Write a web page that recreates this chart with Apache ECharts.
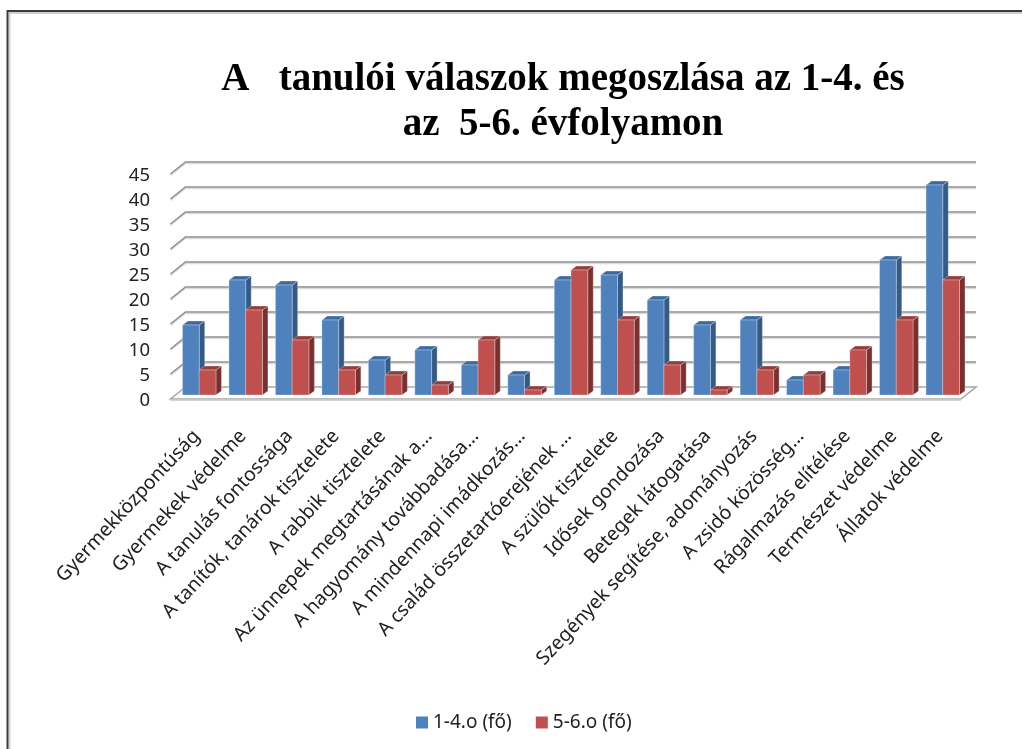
<!DOCTYPE html>
<html><head><meta charset="utf-8">
<style>html,body{margin:0;padding:0;background:#fff}#c{width:1022px;height:749px}</style>
<script src="https://cdn.jsdelivr.net/npm/echarts@6/dist/echarts.min.js"></script>
</head><body><div id="c"></div>
<script>
const categories = ["Gyermekközpontúság","Gyermekek védelme","A tanulás fontossága","A tanítók, tanárok tisztelete","A rabbik tisztelete","Az ünnepek megtartásának a…","A hagyomány továbbadása…","A mindennapi imádkozás…","A család összetartóerejének …","A szülők tisztelete","Idősek gondozása","Betegek látogatása","Szegények segítése, adományozás","A zsidó közösség…","Rágalmazás elítélése","Természet védelme","Állatok védelme"];
const grade14 = [14,23,22,15,7,9,6,4,23,24,19,14,15,3,5,27,42];
const grade56 = [5,17,11,5,4,2,11,1,25,15,6,1,5,4,9,15,23];
const ticks = [5,10,15,20,25,30,35,40,45];
const titleText = "A   tanulói válaszok megoszlása az 1-4. és\naz  5-6. évfolyamon";
const seriesNames = ["1-4.o (fő)","5-6.o (fő)"];

const DX = 5.5, DY = 4;
function barSeries(name, values, side, front, top, sideCol){
  return {
    type:'custom', name, z:5+side, clip:false,
    itemStyle:{color:front},
    encode:{x:0,y:1},
    data: values.map((v,i)=>[i,v]),
    renderItem(params, api){
      const p = api.coord([api.value(0), api.value(1)]);
      const b = api.coord([api.value(0), 0]);
      const w = api.size([1,0])[0]*0.36;
      const x0 = side===0 ? p[0]-w : p[0], x1 = x0+w, y=p[1], y0=b[1];
      const edge = {stroke:'rgba(235,240,250,0.55)', lineWidth:0.6};
      return {type:'group', children:[
        {type:'polygon', shape:{points:[[x1,y],[x1+DX,y-DY],[x1+DX,y0-DY],[x1,y0]]}, style:{fill:sideCol, ...edge}},
        {type:'polygon', shape:{points:[[x0,y],[x0+DX,y-DY],[x1+DX,y-DY],[x1,y]]}, style:{fill:top, ...edge}},
        {type:'rect', shape:{x:x0,y:y,width:w,height:y0-y}, style:{fill:front, ...edge}}
      ]};
    }
  };
}
const wallSeries = {
  type:'custom', name:'wall', z:1, silent:true, clip:false, encode:{y:0},
  data: ticks.map(t=>[t]),
  renderItem(params, api){
    const c = api.coord([0, api.value(0)]);
    const step = api.size([1,0])[0];
    const l = c[0]-step/2, r = l+step*categories.length, y=c[1];
    return {type:'group', children:[
      {type:'polyline', shape:{points:[[l-5.5,y+5.5],[l+9.5,y-6.5],[r+10,y-6.5]]}, style:{fill:'none',stroke:'#dcdcdc',lineWidth:1.5}},
      {type:'polyline', shape:{points:[[l-5.5,y+4],[l+9.5,y-8],[r+10,y-8]]}, style:{fill:'none',stroke:'#8f8f8f',lineWidth:1.6}}
    ]};
  }
};
const floorSeries = {
  type:'custom', name:'floor', z:2, silent:true, clip:false, encode:{y:0},
  data:[[0]],
  renderItem(params, api){
    const c = api.coord([0, api.value(0)]);
    const step = api.size([1,0])[0];
    const l = c[0]-step/2, r = l+step*categories.length, y=c[1];
    return {type:'group', children:[
      {type:'polygon', shape:{points:[[l-5.5,y+4],[l+9.5,y-8],[r+10,y-8],[r-5,y+4]]}, style:{fill:'#fff',stroke:'#a6a6a6',lineWidth:1.6}},
      {type:'line', shape:{x1:l-5.5,y1:y+5.2,x2:r-5,y2:y+5.2}, style:{stroke:'#d4d4d4',lineWidth:1.5}}
    ]};
  }
};
const chart = echarts.init(document.getElementById('c'), null, {renderer:'canvas'});
chart.setOption({
  animation:false,
  backgroundColor:'#fff',
  title:{text:titleText,left:558,top:52,textAlign:'center',
    textStyle:{fontFamily:'Liberation Serif',fontWeight:'bold',fontSize:39,lineHeight:45,color:'#000'}},
  legend:{data:seriesNames,left:416,top:713,padding:0,icon:'rect',itemWidth:12,itemHeight:12,itemGap:24,
    textStyle:{fontFamily:'Noto Sans',fontSize:19,color:'#222'}},
  grid:{left:176,width:790,top:170,height:225},
  xAxis:{type:'category',data:categories,
    axisLine:{show:false},axisTick:{show:false},splitLine:{show:false},
    axisLabel:{interval:0,rotate:47,margin:35,fontFamily:'Noto Sans',fontSize:19.4,color:'#222',hideOverlap:false,padding:[0,4,0,0]}},
  yAxis:{type:'value',min:0,max:45,interval:5,
    axisLine:{show:false},axisTick:{show:false},splitLine:{show:false},
    axisLabel:{margin:26,fontFamily:'Noto Sans',fontSize:18.5,color:'#222',verticalAlign:'top',lineHeight:12}},
  graphic:[
    {type:'polyline',silent:true,z:0,shape:{points:[[9.5,749],[9.5,13],[1022,13]]},style:{fill:'none',stroke:'#d0d0d0',lineWidth:2}},
    {type:'polyline',silent:true,z:0,shape:{points:[[7.5,749],[7.5,11],[1022,11]]},style:{fill:'none',stroke:'#3c3c3c',lineWidth:2}}
  ],
  series:[wallSeries,floorSeries,
    barSeries(seriesNames[0],grade14,0,'#4f81bd','#3d6a9e','#345a86'),
    barSeries(seriesNames[1],grade56,1,'#c0504d','#963c3a','#7c302e')]
});
</script></body></html>
